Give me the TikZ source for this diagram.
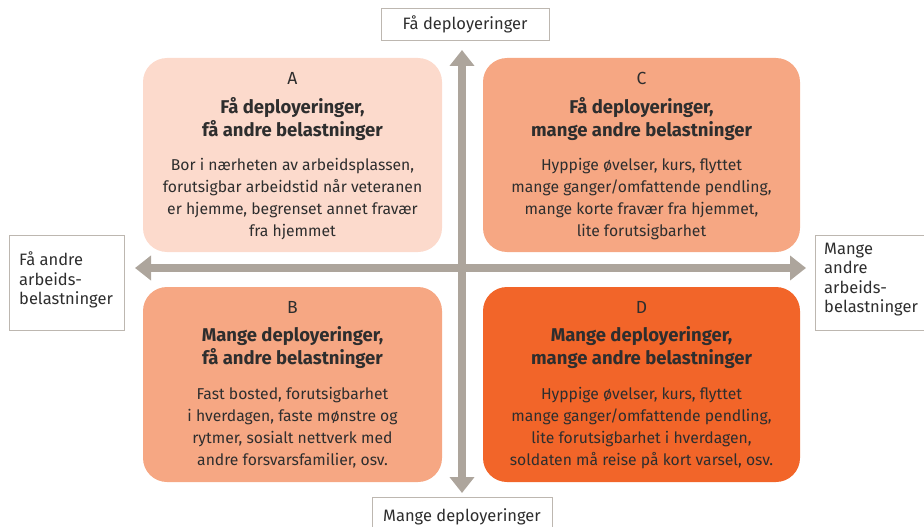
\documentclass[tikz,border=0pt]{standalone}
\usepackage{fontspec}
\setmainfont{Fira Sans}
\usetikzlibrary{arrows.meta}
\definecolor{qa}{HTML}{FCDACC}
\definecolor{qb}{HTML}{F6A783}
\definecolor{qd}{HTML}{F26529}
\definecolor{axis}{HTML}{ADA59C}
\definecolor{lbord}{HTML}{BDB7B0}
\definecolor{txt}{HTML}{2E2E2E}
\tikzset{
  quad/.style={rounded corners=24pt, draw=none, inner sep=0pt},
  letter/.style={text=txt, font=\fontsize{17.5}{18}\selectfont, anchor=center},
  title/.style={text=txt, font=\fontsize{18.5}{23}\selectfont\bfseries, align=center, anchor=north, inner sep=0pt},
  body/.style={text=txt, font=\fontsize{15.7}{22}\selectfont, align=center, anchor=north, inner sep=0pt},
  lab/.style={draw=lbord, line width=0.8pt, fill=white, text=txt, font=\fontsize{16.5}{19.3}\selectfont, inner sep=0pt},
  labtxt/.style={text=txt, font=\fontsize{16.5}{19.3}\selectfont, inner sep=0pt},
  axarrow/.style={draw=axis, line width=8pt, {Triangle[width=24pt,length=16pt]}-{Triangle[width=24pt,length=16pt]}}
}
\begin{document}
\begin{tikzpicture}[x=1pt,y=-1pt]
\useasboundingbox (0,0) rectangle (924,527);
% quadrants
\node[quad, fill=qa, minimum width=299pt, minimum height=194pt] (A) at (292.5,155) {};
\node[quad, fill=qb, minimum width=317pt, minimum height=194pt] (C) at (641.5,155) {};
\node[quad, fill=qb, minimum width=299pt, minimum height=195pt] (B) at (292.5,384.5) {};
\node[quad, fill=qd, minimum width=317pt, minimum height=195pt] (D) at (641.5,384.5) {};
% axes
\coordinate (top) at (462,50);
\coordinate (bot) at (462,493);
\coordinate (lft) at (135,268);
\coordinate (rgt) at (806,268);
\draw[axarrow] (bot) -- (top);
\draw[axarrow] (lft) -- (rgt);
% texts A
\node[letter] (Al) at (292.5,78) {A};
\node[title] (At) at (292.5,97) {Få deployeringer,\\få andre belastninger};
\node[body] (Ab) at (292.5,158) {Bor i nærheten av arbeidsplassen,\\forutsigbar arbeidstid når veteranen\\er hjemme, begrenset annet fravær\\fra hjemmet};
% C
\node[letter] (Cl) at (641.5,78) {C};
\node[title] (Ct) at (641.5,97) {Få deployeringer,\\mange andre belastninger};
\node[body] (Cb) at (641.5,158) {Hyppige øvelser, kurs, flyttet\\mange ganger/omfattende pendling,\\mange korte fravær fra hjemmet,\\lite forutsigbarhet};
% B
\node[letter] (Bl) at (292.5,307) {B};
\node[title] (Bt) at (292.5,326) {Mange deployeringer,\\få andre belastninger};
\node[body] (Bb) at (292.5,387) {Fast bosted, forutsigbarhet\\i hverdagen, faste mønstre og\\rytmer, sosialt nettverk med\\andre forsvarsfamilier, osv.};
% D
\node[letter] (Dl) at (641.5,307) {D};
\node[title] (Dt) at (641.5,326) {Mange deployeringer,\\mange andre belastninger};
\node[body] (Db) at (641.5,387) {Hyppige øvelser, kurs, flyttet\\mange ganger/omfattende pendling,\\lite forutsigbarhet i hverdagen,\\soldaten må reise på kort varsel, osv.};
% axis labels
\node[lab, minimum width=168pt, minimum height=32pt] (Ltop) at (465,24) {Få deployeringer};
\node[lab, minimum width=180pt, minimum height=40pt, anchor=north] (Lbot) at (462,497) {};
\node[labtxt, anchor=base] (Lbott) at (462,521) {Mange deployeringer};
\node[lab, minimum width=115pt, minimum height=95pt, anchor=north west] (Llft) at (9,235) {};
\node[labtxt, align=left, anchor=north west] (Llftt) at (19,252) {Få andre\\arbeids-\\belastninger};
\node[lab, minimum width=120pt, minimum height=95pt, anchor=north west] (Lrgt) at (815,235) {};
\node[labtxt, align=left, anchor=north west] (Lrgtt) at (824,243) {Mange\\andre\\arbeids-\\belastninger};
\end{tikzpicture}
\end{document}
